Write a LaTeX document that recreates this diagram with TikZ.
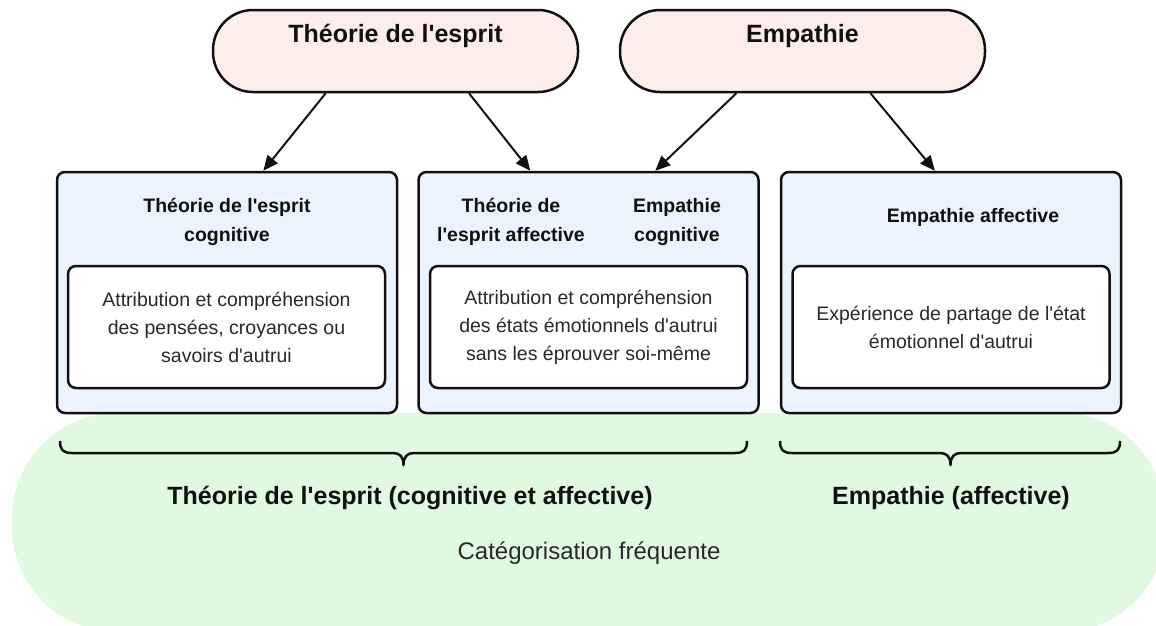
\documentclass[tikz,border=0pt]{standalone}
\usepackage{fontspec}
\setmainfont{Liberation Sans}
\usetikzlibrary{arrows.meta,calc}
\definecolor{pillfill}{HTML}{FDEEEC}
\definecolor{boxfill}{HTML}{EBF3FE}
\definecolor{blobfill}{HTML}{E1F8E1}
\definecolor{ink}{HTML}{111111}
\newcommand{\apos}{\textquotesingle}
\begin{document}
\begin{tikzpicture}[x=1pt,y=-1pt,
  pill/.style={draw=ink, line width=2.5pt, fill=pillfill, rounded corners=40pt, minimum width=365pt, minimum height=82pt, inner sep=0pt},
  pilltext/.style={font=\bfseries\fontsize{25}{30}\selectfont, text=ink, inner sep=0pt},
  outerbox/.style={draw=ink, line width=2.5pt, fill=boxfill, rounded corners=8pt, minimum width=340pt, minimum height=241pt, inner sep=0pt},
  innerbox/.style={draw=ink, line width=2.5pt, fill=white, rounded corners=8pt, minimum width=317pt, minimum height=122pt, inner sep=0pt, align=center, font=\fontsize{19.5}{28}\selectfont, text=ink!90},
  boxtitle/.style={font=\bfseries\fontsize{19.5}{29}\selectfont, align=center, text=ink, inner sep=0pt},
  conn/.style={-{Triangle[length=15pt,width=13pt]}, line width=2pt, draw=ink},
  bracket/.style={line width=2.5pt, draw=ink, line join=round},
  biglabel/.style={font=\bfseries\fontsize{25}{30}\selectfont, text=ink, inner sep=0pt},
  catlabel/.style={font=\fontsize{24}{30}\selectfont, text=ink!90, inner sep=0pt}
]
\useasboundingbox (0,0) rectangle (1156,625);
\begin{scope}
  \clip (0,0) rectangle (1156,625);
  \fill[blobfill, rounded corners=105pt] (12,413) rectangle (1166,632);
\end{scope}

% top pills
\node[pill] (p1) at (395.5,51) {};
\node[pilltext] (p1t) at (395.5,36) {Théorie de l\apos esprit};
\node[pill] (p2) at (802.5,51) {};
\node[pilltext] (p2t) at (802.5,36) {Empathie};

% outer boxes
\node[outerbox] (b1) at (227,292.5) {};
\node[outerbox] (b2) at (588.5,292.5) {};
\node[outerbox] (b3) at (951,292.5) {};

% titles
\node[boxtitle] (t1) at (227,222) {Théorie de l\apos esprit\\cognitive};
\node[boxtitle] (t2a) at (511,222) {Théorie de\\l\apos esprit affective};
\node[boxtitle] (t2b) at (677,222) {Empathie\\cognitive};
\node[boxtitle] (t3) at (973,217) {Empathie affective};

% inner boxes
\node[innerbox] (i1) at (226.5,327) {Attribution et compréhension\\des pensées, croyances ou\\savoirs d\apos autrui};
\node[innerbox] (i2) at (588.5,327) {Attribution et compréhension\\des états émotionnels d\apos autrui\\sans les éprouver soi-même};
\node[innerbox] (i3) at (951,327) {Expérience de partage de l\apos état\\émotionnel d\apos autrui};

% connectors
\draw[conn] ($(p1.south west)!0.31!(p1.south east)$) -- ($(b1.north west)!0.606!(b1.north east)$);
\draw[conn] ($(p1.south west)!0.70!(p1.south east)$) -- ($(b2.north west)!0.33!(b2.north east)$);
\draw[conn] ($(p2.south west)!0.32!(p2.south east)$) -- ($(b2.north west)!0.695!(b2.north east)$);
\draw[conn] ($(p2.south west)!0.685!(p2.south east)$) -- ($(b3.north west)!0.453!(b3.north east)$);

% braces
\draw[bracket] (60,441) .. controls (60,450) and (63,453) .. (72,453) -- (393,453)
  .. controls (400,453) and (403.5,457) .. (403.5,465)
  .. controls (403.5,457) and (407,453) .. (414,453) -- (735,453)
  .. controls (744,453) and (747,450) .. (747,441);
\draw[bracket] (780,441) .. controls (780,450) and (783,453) .. (792,453) -- (940,453)
  .. controls (947,453) and (950.5,457) .. (950.5,465)
  .. controls (950.5,457) and (954,453) .. (961,453) -- (1108,453)
  .. controls (1117,453) and (1120,450) .. (1120,441);

\node[biglabel] (l1) at (410,498) {Théorie de l\apos esprit (cognitive et affective)};
\node[biglabel] (l2) at (951,498) {Empathie (affective)};
\node[catlabel] (l3) at (589,553) {Catégorisation fréquente};
\end{tikzpicture}
\end{document}
